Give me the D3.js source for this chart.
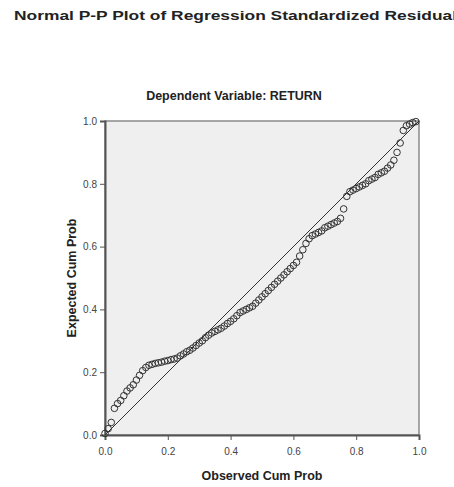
<!DOCTYPE html>
<html lang="en">
<head>
    <meta charset="UTF-8">
    <title>Normal P-P Plot</title>
    <script src="https://d3js.org/d3.v7.min.js"></script>
    <style>
        body { margin: 0; background: #fff; }
        text { font-family: Arial, "Liberation Sans", sans-serif; }
        .tick text { font-size: 10px; fill: #444; }
        .title { font-size: 13.5px; font-weight: bold; fill: #222; }
        .subtitle { font-size: 12.5px; font-weight: bold; fill: #222; }
        .axis-title { font-size: 12.5px; font-weight: bold; fill: #222; }
    </style>
</head>
<body>
    <script>
        // observed vs expected cumulative probability
        const observed = [
            0.00, 0.01, 0.02, 0.03, 0.04, 0.05, 0.06, 0.07, 0.08, 0.09,
            0.10, 0.11, 0.12, 0.13, 0.14, 0.15, 0.16, 0.17, 0.18, 0.19,
            0.20, 0.21, 0.22, 0.23, 0.24, 0.25, 0.26, 0.27, 0.28, 0.29,
            0.30, 0.31, 0.32, 0.33, 0.34, 0.35, 0.36, 0.37, 0.38, 0.39,
            0.40, 0.41, 0.42, 0.43, 0.44, 0.45, 0.46, 0.47, 0.48, 0.49,
            0.50, 0.51, 0.52, 0.53, 0.54, 0.55, 0.56, 0.57, 0.58, 0.59,
            0.60, 0.61, 0.62, 0.63, 0.64, 0.65, 0.66, 0.67, 0.68, 0.69,
            0.70, 0.71, 0.72, 0.73, 0.74, 0.75, 0.76, 0.77, 0.78, 0.79,
            0.80, 0.81, 0.82, 0.83, 0.84, 0.85, 0.86, 0.87, 0.88, 0.89,
            0.90, 0.91, 0.92, 0.93, 0.94, 0.95, 0.96, 0.97, 0.98, 0.99
        ];
        const expected = [
            0.005, 0.02, 0.04, 0.085, 0.10, 0.11, 0.125, 0.14, 0.15, 0.16,
            0.175, 0.19, 0.205, 0.215, 0.222, 0.225, 0.228, 0.23, 0.232, 0.235,
            0.237, 0.24, 0.242, 0.245, 0.252, 0.258, 0.265, 0.27, 0.277, 0.285,
            0.293, 0.30, 0.31, 0.318, 0.325, 0.33, 0.335, 0.34, 0.347, 0.355,
            0.362, 0.37, 0.38, 0.39, 0.395, 0.40, 0.405, 0.41, 0.42, 0.43,
            0.44, 0.45, 0.46, 0.47, 0.48, 0.49, 0.50, 0.51, 0.52, 0.53,
            0.54, 0.55, 0.57, 0.59, 0.61, 0.625, 0.635, 0.64, 0.645, 0.65,
            0.66, 0.665, 0.67, 0.675, 0.68, 0.69, 0.72, 0.76, 0.775, 0.78,
            0.785, 0.79, 0.795, 0.80, 0.81, 0.815, 0.82, 0.83, 0.835, 0.84,
            0.85, 0.86, 0.875, 0.90, 0.93, 0.97, 0.985, 0.99, 0.995, 0.998
        ];
        const ticks = [0.0, 0.2, 0.4, 0.6, 0.8, 1.0];

        const width = 454, height = 487;
        const plot = { left: 105, top: 121, right: 419, bottom: 435 };

        const svg = d3.select("body").append("svg")
            .attr("width", width)
            .attr("height", height);

        const x = d3.scaleLinear().domain([0, 1]).range([plot.left, plot.right]);
        const y = d3.scaleLinear().domain([0, 1]).range([plot.bottom, plot.top]);

        // titles
        svg.append("text")
            .attr("class", "title")
            .attr("x", 14)
            .attr("y", 20)
            .attr("textLength", 443)
            .attr("lengthAdjust", "spacingAndGlyphs")
            .text("Normal P-P Plot of Regression Standardized Residual");

        svg.append("text")
            .attr("class", "subtitle")
            .attr("x", 234)
            .attr("y", 100)
            .attr("text-anchor", "middle")
            .text("Dependent Variable: RETURN");

        // plot background
        svg.append("rect")
            .attr("x", plot.left)
            .attr("y", plot.top)
            .attr("width", plot.right - plot.left)
            .attr("height", plot.bottom - plot.top)
            .attr("fill", "#efefef")
            .attr("stroke", "#8a8a8a")
            .attr("stroke-width", 1.5);

        // axes
        const xAxis = svg.append("g")
            .attr("transform", `translate(0,${plot.bottom})`)
            .call(d3.axisBottom(x).tickValues(ticks).tickFormat(d3.format(".1f")).tickSize(5).tickPadding(8));
        const yAxis = svg.append("g")
            .attr("transform", `translate(${plot.left},0)`)
            .call(d3.axisLeft(y).tickValues(ticks).tickFormat(d3.format(".1f")).tickSize(5).tickPadding(3));
        [xAxis, yAxis].forEach(a => {
            a.select(".domain").attr("stroke", "#555").attr("stroke-width", 2);
            a.selectAll(".tick line").attr("stroke", "#555");
        });

        // diagonal reference line
        svg.append("line")
            .attr("x1", x(0)).attr("y1", y(0))
            .attr("x2", x(1)).attr("y2", y(1))
            .attr("stroke", "#333")
            .attr("stroke-width", 1);

        // points
        svg.append("g")
            .selectAll("circle")
            .data(observed.map((o, i) => [o, expected[i]]))
            .join("circle")
            .attr("cx", d => x(d[0]))
            .attr("cy", d => y(d[1]))
            .attr("r", 3.3)
            .attr("fill", "none")
            .attr("stroke", "#333")
            .attr("stroke-width", 1);

        // axis titles
        svg.append("text")
            .attr("class", "axis-title")
            .attr("x", (plot.left + plot.right) / 2)
            .attr("y", 480)
            .attr("text-anchor", "middle")
            .text("Observed Cum Prob");

        svg.append("text")
            .attr("class", "axis-title")
            .attr("transform", `translate(76,${(plot.top + plot.bottom) / 2}) rotate(-90)`)
            .attr("text-anchor", "middle")
            .text("Expected Cum Prob");
    </script>
</body>
</html>
